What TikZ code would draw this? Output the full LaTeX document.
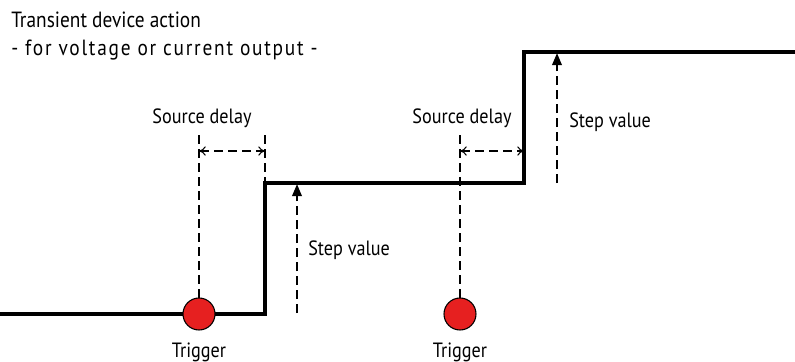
\documentclass[tikz,border=0pt]{standalone}
\usepackage{fontspec}
\setmainfont{PT Sans}[FakeStretch=0.88]
\usetikzlibrary{arrows.meta}
\definecolor{trigred}{RGB}{230,32,32}
\begin{document}
\begin{tikzpicture}[x=0.75pt,y=-0.75pt,
  wave/.style={line width=2.4pt, line join=miter},
  dsh/.style={line width=1.7pt, dash pattern=on 6.5pt off 4pt},
  delayarrow/.style={dsh, {To[length=5pt,width=7pt,line width=0.8pt]}-{To[length=5pt,width=7pt,line width=0.8pt]}},
  steparrow/.style={dsh, -{Stealth[length=9pt,width=7pt,inset=0pt]}},
  trig/.style={circle, draw=black, fill=trigred, line width=0.8pt, minimum size=24pt, inner sep=0pt},
  lbl/.style={font=\fontsize{15.5}{17}\selectfont, inner sep=0pt},
  ttl/.style={font=\fontsize{16.5}{19}\selectfont, inner sep=0pt}
]
\useasboundingbox (0,0) rectangle (795,361);

% title
\node[ttl, anchor=base west] (title1) at (11,27) {Transient device action};
\node[ttl, anchor=base west] (title2) at (11,55) {\addfontfeature{LetterSpace=8}- for voltage or current output -};

% waveform corners
\coordinate (w0) at (0,314);
\coordinate (w1) at (265,314);
\coordinate (w2) at (265,183);
\coordinate (w3) at (524,183);
\coordinate (w4) at (524,52);
\coordinate (w5) at (795,52);

% delay markers
\coordinate (d1top) at (199,135);
\coordinate (d1r) at (265,135);
\coordinate (d2top) at (460,135);
\coordinate (d2r) at (524,135);
\coordinate (a1l) at (199,151);
\coordinate (a1r) at (265,151);
\coordinate (a2l) at (460,151);
\coordinate (a2r) at (524,151);

\draw[dsh] (d1top) -- (199,300);
\draw[dsh] (d1r) -- (w2);
\draw[dsh] (d2top) -- (460,300);
\draw[dsh] (d2r) -- (524,183);
\draw[delayarrow] (a1l) -- (a1r);
\draw[delayarrow] (a2l) -- (a2r);

% step value arrows
\coordinate (s1b) at (297,313);
\coordinate (s1t) at (297,184);
\coordinate (s2b) at (557,183);
\coordinate (s2t) at (557,53);
\draw[steparrow] (s1b) -- (s1t);
\draw[steparrow] (s2b) -- (s2t);

% waveform
\draw[wave] (w0) -- (w1) -- (w2) -- (w3) -- (w4) -- (w5);

% triggers
\node[trig] (t1) at (199,314) {};
\node[trig] (t2) at (460,314) {};
\node[lbl, anchor=base] (tl1) at (199,357) {Trigger};
\node[lbl, anchor=base] (tl2) at (460,357) {Trigger};

% labels
\node[lbl, anchor=base] (sd1) at (202,123) {Source delay};
\node[lbl, anchor=base] (sd2) at (462,123) {Source delay};
\node[lbl, anchor=base west] (sv1) at (308,255) {Step value};
\node[lbl, anchor=base west] (sv2) at (569,127) {Step value};
\end{tikzpicture}
\end{document}
